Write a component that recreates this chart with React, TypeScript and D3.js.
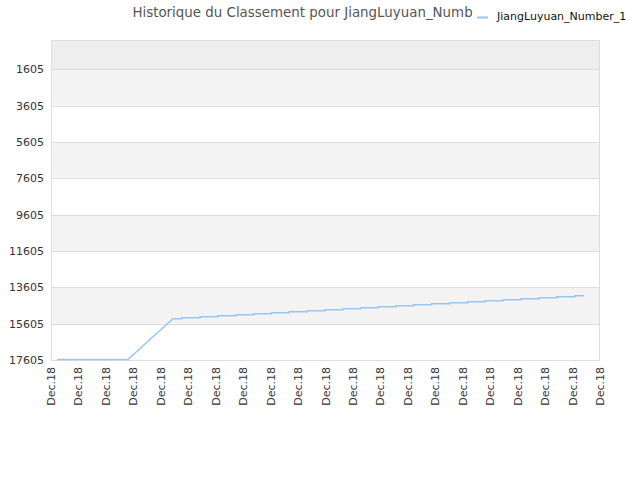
import React from "react";
import * as d3 from "d3";

const title = "Historique du Classement pour JiangLuyuan_Number_1";
const seriesName = "JiangLuyuan_Number_1";
const xTickLabels = Array.from({ length: 21 }, () => "Dec.18");
const yTicks = [1605, 3605, 5605, 7605, 9605, 11605, 13605, 15605, 17605];

// ramp part (linear)
const rampX = [0.22, 2.8, 4.44];
const rampRank = [17580, 17580, 15333];
// stepped part
const stepX = [4.44, 4.76, 5.43, 6.08, 6.74, 7.38, 8.03, 8.67, 9.33, 9.98, 10.64, 11.29, 11.91, 12.57, 13.21, 13.86, 14.54, 15.17, 15.81, 16.47, 17.12, 17.78, 18.43, 19.09, 19.42];
const stepRank = [15333, 15280, 15225, 15170, 15115, 15060, 15005, 14950, 14895, 14840, 14785, 14730, 14675, 14620, 14565, 14510, 14455, 14400, 14345, 14290, 14235, 14180, 14125, 14068, 14068];

export default function App() {
  const W = 640, H = 480;
  const L = 51, R = 600, T = 40, B = 360;
  const x = d3.scaleLinear().domain([0, 20]).range([L, R]);
  const y = d3.scaleLinear().domain([0, 17605]).range([T, B]);

  const pts: [number, number][] = [];
  rampX.forEach((v, i) => pts.push([v, rampRank[i]]));
  for (let i = 1; i < stepX.length; i++) {
    pts.push([stepX[i], stepRank[i - 1]]);
    pts.push([stepX[i], stepRank[i]]);
  }
  const line = d3.line<[number, number]>().x(d => x(d[0])).y(d => y(d[1]));

  const bands: { a: number; b: number; fill: string }[] = [];
  bands.push({ a: 0, b: yTicks[0], fill: "#eeeeee" });
  for (let i = 0; i < yTicks.length - 1; i++) {
    if (i % 2 === 0) bands.push({ a: yTicks[i], b: yTicks[i + 1], fill: "#f3f3f3" });
  }

  return (
    <svg width={W} height={H} style={{ position: "absolute", left: 0, top: 0 }} fontFamily="DejaVu Sans">
      <defs>
        <clipPath id="tclip"><rect x={0} y={0} width={472} height={30} /></clipPath>
      </defs>
      <rect x={0} y={0} width={W} height={H} fill="#fff" />
      {bands.map((b, i) => (
        <rect key={i} x={L} y={y(b.a)} width={R - L} height={y(b.b) - y(b.a)} fill={b.fill} />
      ))}
      {yTicks.map((t, i) => (
        <line key={i} x1={L} x2={R} y1={Math.round(y(t)) + 0.5} y2={Math.round(y(t)) + 0.5} stroke="#dddddd" />
      ))}
      <rect x={L + 0.5} y={T + 0.5} width={R - L - 1} height={B - T} fill="none" stroke="#dddddd" />
      <path d={line(pts) || ""} fill="none" stroke="#99c5f2" strokeWidth={1.5} />
      {yTicks.map((t, i) => (
        <text key={i} x={44} y={y(t) + 4} textAnchor="end" fontSize={11} fill="#333">{t}</text>
      ))}
      {xTickLabels.map((lab, i) => (
        <text key={i} transform={`translate(${x(i) + 4},367) rotate(-90)`} textAnchor="end" fontSize={11} fill="#333">{lab}</text>
      ))}
      <g clipPath="url(#tclip)">
        <text x={317} y={17} textAnchor="middle" fontSize={13.4} fill="#555">{title}</text>
      </g>
      <line x1={477} x2={488} y1={17.5} y2={17.5} stroke="#99c5f2" strokeWidth={2} />
      <text x={497} y={20} fontSize={11} fill="#111">{seriesName}</text>
    </svg>
  );
}
